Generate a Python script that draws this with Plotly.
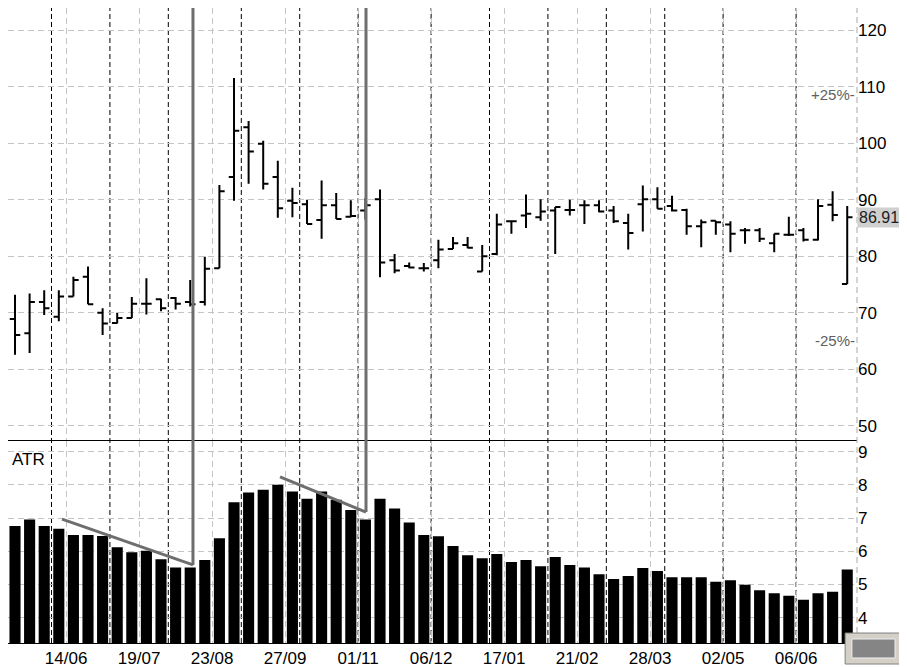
import plotly.graph_objects as go

# weekly bars, index 0..58
opens = [72.0, 68.9, 66.4, 71.9, 69.3, 72.9, 76.4, 70.0, 68.2, 69.1,
         71.6, 72.4, 72.6, 71.9, 71.9, 77.9, 94.0, 102.8, 99.9, 94.0,
         89.8, 89.2, 86.4, 89.0, 87.0, 88.1, 90.1, 79.3, 78.3, 77.9,
         79.3, 81.3, 82.0, 77.3, 80.4, 86.2, 87.2, 86.9, 88.1, 88.2,
         89.0, 89.0, 88.1, 85.9, 89.2, 90.1, 88.9, 88.2, 85.3, 86.3,
         85.6, 84.6, 84.6, 82.3, 83.8, 84.6, 82.9, 89.1, 75.1]
highs = [75.0, 73.2, 73.4, 74.0, 74.0, 76.4, 78.2, 70.8, 70.0, 72.8,
         76.1, 72.5, 72.8, 75.8, 79.9, 92.6, 111.5, 103.9, 100.4, 96.9,
         92.1, 90.0, 93.4, 91.2, 89.9, 90.3, 91.8, 80.4, 78.9, 78.8,
         82.9, 83.4, 83.4, 82.0, 87.5, 86.3, 90.9, 90.1, 88.7, 90.0,
         89.9, 89.9, 88.9, 87.5, 92.5, 92.2, 90.7, 88.4, 86.5, 86.3,
         86.2, 85.0, 85.0, 84.0, 87.0, 85.0, 90.1, 91.5, 88.9]
lows = [63.2, 62.6, 62.9, 69.6, 68.5, 72.9, 71.5, 66.1, 68.1, 69.1,
        69.7, 70.3, 70.6, 71.1, 71.3, 77.9, 89.8, 92.8, 91.8, 86.8,
        86.9, 85.7, 83.1, 86.6, 86.9, 86.5, 76.3, 77.0, 77.9, 77.3,
        77.9, 81.3, 81.4, 77.3, 80.2, 84.0, 85.0, 86.3, 80.4, 87.2,
        85.7, 87.8, 85.9, 81.2, 84.4, 88.4, 87.9, 83.8, 81.6, 83.8,
        80.7, 82.2, 82.5, 80.7, 83.6, 82.6, 82.8, 86.2, 75.1]
closes = [70.0, 66.1, 71.9, 70.8, 72.9, 75.8, 71.5, 68.1, 69.1, 71.6,
          71.6, 70.8, 71.6, 71.5, 77.8, 91.5, 102.2, 98.5, 92.8, 88.5,
          89.4, 85.7, 89.0, 86.6, 87.1, 89.0, 78.9, 77.5, 78.0, 77.9,
          81.2, 82.3, 81.5, 80.0, 85.6, 86.2, 87.5, 87.9, 88.7, 88.2,
          89.0, 87.9, 86.2, 84.1, 90.1, 88.4, 88.1, 85.3, 86.0, 86.0,
          84.0, 84.6, 83.1, 84.0, 83.8, 82.9, 88.9, 87.3, 86.91]
weeks = list(range(len(closes)))

# ATR, starts at week 1
atr = [6.76, 6.96, 6.76, 6.68, 6.49, 6.49, 6.46, 6.12, 5.97, 6.02,
       5.76, 5.51, 5.51, 5.74, 6.39, 7.48, 7.77, 7.85, 8.00, 7.80,
       7.58, 7.80, 7.55, 7.24, 6.96, 7.58, 7.29, 6.87, 6.49, 6.45,
       6.16, 5.88, 5.79, 5.92, 5.68, 5.74, 5.55, 5.83, 5.59, 5.51,
       5.31, 5.17, 5.26, 5.50, 5.41, 5.22, 5.22, 5.22, 5.08, 5.13,
       4.99, 4.83, 4.74, 4.66, 4.54, 4.74, 4.78, 5.45]
atr_weeks = weeks[1:]

tick_pos = [4.5, 9.5, 14.5, 19.5, 24.5, 29.5, 34.5, 39.5, 44.5, 49.5, 54.5]
tick_text = ["14/06", "19/07", "23/08", "27/09", "01/11", "06/12",
             "17/01", "21/02", "28/03", "02/05", "06/06"]
month_starts = [3.5, 7.5, 11.5, 16.5, 20.5, 24.5, 29.5, 33.5, 37.5,
                41.5, 45.5, 49.5, 54.5]

# hand drawn ATR divergence lines (week, atr)
trend1 = [(4.22, 6.97), (13.19, 5.59)]
trend2 = [(19.15, 8.24), (25.04, 7.18)]

FONT = "Liberation Sans, Arial, sans-serif"
GRID = "#c4c4c4"
# page body has an 8px margin, so the figure is a bit smaller and the
# ranges start a little in, to line up with the original screen grab
xr = [0.52, 58.67]
top_dom = [0.3197, 1.0]
bot_dom = [0.0, 0.3181]
top_rng = [47.52, 123.89]
bot_rng = [3.24, 9.32]


def atr_paper(v):
    return bot_dom[0] + (v - bot_rng[0]) / (bot_rng[1] - bot_rng[0]) * (bot_dom[1] - bot_dom[0])


fig = go.Figure()
fig.add_trace(go.Ohlc(
    x=weeks, open=opens, high=highs, low=lows, close=closes,
    increasing_line_color="black", decreasing_line_color="black",
    line_width=2, tickwidth=0.36, xaxis="x", yaxis="y", showlegend=False))
fig.add_trace(go.Bar(
    x=atr_weeks, y=atr, marker_color="black", marker_line_width=0,
    width=0.76, xaxis="x2", yaxis="y2", showlegend=False))

axis_font = dict(family=FONT, size=17, color="black")
fig.update_layout(
    width=899, height=659,
    margin=dict(l=0, r=50, t=0, b=24),
    paper_bgcolor="white", plot_bgcolor="white",
    font=axis_font,
    xaxis=dict(domain=[0, 1], anchor="y", range=xr, rangeslider=dict(visible=False),
               tickvals=tick_pos, showticklabels=False, showgrid=True,
               gridcolor=GRID, griddash="6px,4px", zeroline=False, ticks=""),
    xaxis2=dict(domain=[0, 1], anchor="y2", range=xr, tickvals=tick_pos,
                ticktext=tick_text, showgrid=True, gridcolor=GRID,
                griddash="6px,4px", zeroline=False, ticks="",
                showline=True, mirror=True, linecolor="black", linewidth=1,
                tickfont=axis_font),
    yaxis=dict(domain=top_dom, anchor="x", side="right", range=top_rng,
               tickvals=[50, 60, 70, 80, 90, 100, 110, 120], showgrid=True,
               gridcolor=GRID, griddash="6px,4px", zeroline=False, ticks="",
               tickfont=axis_font),
    yaxis2=dict(domain=bot_dom, anchor="x2", side="right", range=bot_rng,
                tickvals=[4, 5, 6, 7, 8, 9], showgrid=True, gridcolor=GRID,
                griddash="6px,4px", zeroline=False, ticks="",
                tickfont=axis_font),
)

shapes = []
for m in month_starts:
    shapes.append(dict(type="line", xref="x", yref="paper", x0=m, x1=m, y0=0, y1=1,
                       line=dict(color="black", width=1, dash="5px,3px"), layer="between"))
# right edge dashed line
shapes.append(dict(type="line", xref="paper", yref="paper", x0=1, x1=1, y0=0, y1=1,
                   line=dict(color="#a8a8a8", width=1, dash="6px,4px")))
for (xa, ya), (xb, yb) in [trend1, trend2]:
    shapes.append(dict(type="line", xref="x2", yref="y2", x0=xa, y0=ya, x1=xb, y1=yb,
                       line=dict(color="#6e6e6e", width=3)))
    shapes.append(dict(type="line", xref="x2", yref="paper", x0=xb, x1=xb,
                       y0=atr_paper(yb), y1=1, line=dict(color="#6e6e6e", width=3)))
# little grey button in the corner
shapes.append(dict(type="rect", xref="paper", yref="paper", x0=0.986, x1=1.0565,
                   y0=0.0157, y1=-0.0331, fillcolor="#d4d0c8",
                   line=dict(color="#808080", width=1)))
shapes.append(dict(type="rect", xref="paper", yref="paper", x0=0.994, x1=1.0448,
                   y0=0.0063, y1=-0.0236, fillcolor="#858585",
                   line=dict(color="#f0f0f0", width=1)))
fig.update_layout(shapes=shapes)

last = closes[-1]
annotations = [
    dict(text="ATR", xref="paper", yref="y2 domain", x=0.0024, y=0.91,
         xanchor="left", yanchor="middle", showarrow=False,
         font=dict(family=FONT, size=17, color="black")),
    dict(text="%.2f" % last, xref="paper", yref="y", x=1.0, y=last,
         xanchor="left", yanchor="middle", showarrow=False, bgcolor="#d0d0d0",
         borderpad=1, font=dict(family=FONT, size=16, color="#202020")),
    dict(text="+25%-", xref="paper", yref="y", x=1.0, y=last * 1.25,
         xanchor="right", yanchor="middle", showarrow=False,
         font=dict(family=FONT, size=15, color="#606060")),
    dict(text="-25%-", xref="paper", yref="y", x=1.0, y=last * 0.75,
         xanchor="right", yanchor="middle", showarrow=False,
         font=dict(family=FONT, size=15, color="#606060")),
]
fig.update_layout(annotations=annotations)

fig.write_html("out.html")
